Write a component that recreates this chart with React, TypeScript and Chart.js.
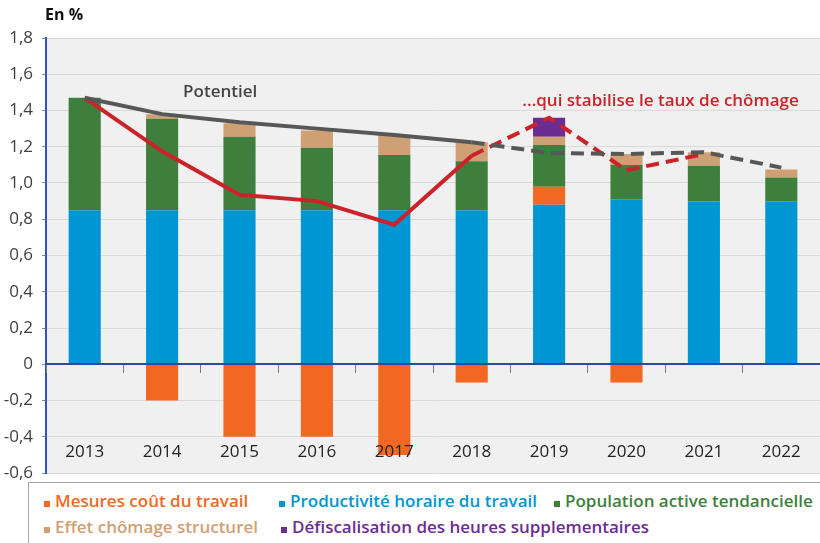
import React, { useEffect, useRef } from 'react';
import { Chart, registerables } from 'chart.js';

Chart.register(...registerables);

// ---- Data ----
const years = ['2013', '2014', '2015', '2016', '2017', '2018', '2019', '2020', '2021', '2022'];
const productivite = [0.85, 0.85, 0.85, 0.85, 0.85, 0.85, 0.88, 0.91, 0.9, 0.9];
const mesuresCout = [0, -0.2, -0.4, -0.4, -0.5, -0.1, 0.1, -0.1, 0, 0];
const population = [0.62, 0.505, 0.405, 0.345, 0.305, 0.27, 0.23, 0.19, 0.195, 0.13];
const effetChomage = [0, 0.025, 0.075, 0.095, 0.11, 0.105, 0.045, 0.06, 0.075, 0.045];
const defiscalisation = [0, 0, 0, 0, 0, 0, 0.105, 0, 0, 0];
const potentiel = [1.47, 1.38, 1.335, 1.3, 1.265, 1.225, 1.165, 1.16, 1.17, 1.085];
const croissanceStable = [1.47, 1.175, 0.935, 0.9, 0.77, 1.15, 1.36, 1.07, 1.16, null];
const yTickValues = [-0.6, -0.4, -0.2, 0, 0.2, 0.4, 0.6, 0.8, 1.0, 1.2, 1.4, 1.6, 1.8];

const seriesLabels = [
  'Mesures coût du travail',
  'Productivité horaire du travail',
  'Population active tendancielle',
  'Effet chômage structurel',
  'Défiscalisation des heures supplementaires',
];
const potentielLabel = 'Potentiel';
const chomageLabel = '...qui stabilise le taux de chômage';
const unitLabel = 'En %';

// ---- Styles ----
const FONT = "'Open Sans', 'DejaVu Sans', sans-serif";
const C_ORANGE = '#f26722';
const C_BLUE = '#0096d3';
const C_GREEN = '#3e7f3e';
const C_TAN = '#d0a075';
const C_PURPLE = '#6a2d91';
const C_RED = '#cc2229';
const C_GRAY = '#575757';
const seriesColors = [C_ORANGE, C_BLUE, C_GREEN, C_TAN, C_PURPLE];

const fmt = (v: number) => {
  const r = Math.round(v * 10) / 10;
  if (r === 0) return '0';
  return r.toFixed(1).replace('.', ',');
};

const plotBg = {
  id: 'plotBg',
  beforeDraw(chart: any) {
    const { ctx, chartArea: a } = chart;
    ctx.save();
    ctx.fillStyle = '#f0f0f0';
    ctx.fillRect(a.left, a.top, a.right - a.left, a.bottom - a.top);
    ctx.restore();
  },
};

const notes = {
  id: 'notes',
  afterDraw(chart: any) {
    const { ctx, chartArea: a, scales } = chart;
    const x = scales.x;
    const y = scales.y;
    ctx.save();
    ctx.textBaseline = 'middle';
    ctx.textAlign = 'left';
    ctx.font = `bold 16px ${FONT}`;
    ctx.fillStyle = '#111111';
    ctx.fillText(unitLabel, a.left - 1, a.top - 23);
    ctx.textAlign = 'center';
    ctx.font = `600 17px ${FONT}`;
    ctx.fillStyle = '#454545';
    ctx.fillText(potentielLabel, x.getPixelForValue(1.75), y.getPixelForValue(1.503));
    ctx.fillStyle = C_RED;
    ctx.fillText(chomageLabel, x.getPixelForValue(7.44), y.getPixelForValue(1.453));
    ctx.restore();
  },
};

const dashAfter2018 = (dash: number[]) => (c: any) => (c.p0DataIndex >= 5 ? dash : undefined);

export default function App() {
  const ref = useRef<HTMLCanvasElement | null>(null);

  useEffect(() => {
    if (!ref.current) return;
    const bar = (label: string, data: number[], color: string) => ({
      type: 'bar' as const,
      label,
      data,
      backgroundColor: color,
      borderWidth: 0,
      stack: 'bars',
      barPercentage: 0.415,
      categoryPercentage: 1,
    });
    const chart = new Chart(ref.current, {
      type: 'bar',
      data: {
        labels: years,
        datasets: [
          {
            type: 'line',
            label: potentielLabel,
            data: potentiel,
            stack: 'potentiel',
            borderColor: C_GRAY,
            borderWidth: 4,
            pointRadius: 0,
            tension: 0,
            segment: { borderDash: dashAfter2018([13, 7]) },
          } as any,
          {
            type: 'line',
            label: chomageLabel,
            data: croissanceStable,
            stack: 'chomage',
            borderColor: C_RED,
            borderWidth: 4,
            pointRadius: 0,
            tension: 0,
            spanGaps: false,
            segment: { borderDash: dashAfter2018([13, 7]) },
          } as any,
          bar(seriesLabels[1], productivite, C_BLUE),
          bar(seriesLabels[0], mesuresCout, C_ORANGE),
          bar(seriesLabels[2], population, C_GREEN),
          bar(seriesLabels[3], effetChomage, C_TAN),
          bar(seriesLabels[4], defiscalisation, C_PURPLE),
        ],
      },
      options: {
        responsive: false,
        animation: false,
        layout: { padding: { top: 38, bottom: 70, left: 0, right: 0 } },
        plugins: {
          legend: { display: false },
          tooltip: { enabled: false },
          title: { display: false },
        },
        scales: {
          x: {
            stacked: true,
            position: { y: 0 } as any,
            offset: true,
            afterFit: (s: any) => {
              s.paddingLeft = 0;
              s.paddingRight = 0;
            },
            grid: {
              display: true,
              offset: true,
              drawOnChartArea: false,
              drawTicks: true,
              tickLength: 8,
              tickColor: '#7a7a7a',
              tickWidth: 1,
              z: 1,
            },
            border: { display: true, color: '#2b4c9c', width: 2, z: 1 },
            ticks: {
              padding: 70,
              color: '#222222',
              font: { family: FONT, size: 17 },
              maxRotation: 0,
              autoSkip: false,
              z: 2,
            },
          } as any,
          y: {
            stacked: true,
            min: yTickValues[0],
            max: yTickValues[yTickValues.length - 1],
            afterFit: (s: any) => {
              s.width = 46;
            },
            afterBuildTicks: (s: any) => {
              s.ticks = yTickValues.map((v) => ({ value: v }));
            },
            grid: { color: '#d9d9d9', tickLength: 4, tickColor: '#8a8a8a', drawTicks: true },
            border: { display: true, color: '#2d55b4', width: 2 },
            ticks: {
              padding: 9,
              color: '#404040',
              font: { family: FONT, size: 17 },
              callback: (v: any) => fmt(Number(v)),
            },
          },
        },
      },
      plugins: [plotBg, notes],
    });
    return () => chart.destroy();
  }, []);

  const legendRows = [
    [0, 1, 2],
    [3, 4],
  ];
  const rowTops = [8, 34];
  const itemLefts = [
    [15, 250, 525],
    [15, 252],
  ];

  return (
    <div
      style={{
        position: 'absolute',
        left: 0,
        top: 0,
        width: 820,
        height: 543,
        overflow: 'hidden',
        background: '#ffffff',
      }}
    >
      <canvas ref={ref} width={820} height={543} style={{ display: 'block', width: 820, height: 543 }} />
      <div
        style={{
          position: 'absolute',
          left: 28,
          top: 482,
          width: 800,
          height: 70,
          border: '1px solid #a6a6a6',
          background: '#ffffff',
          boxSizing: 'border-box',
          fontFamily: FONT,
          fontWeight: 600,
          fontSize: 17,
        }}
      >
        {legendRows.map((row, r) =>
          row.map((idx, k) => (
            <div
              key={idx}
              style={{
                position: 'absolute',
                left: itemLefts[r][k],
                top: rowTops[r],
                lineHeight: '20px',
                whiteSpace: 'nowrap',
                color: seriesColors[idx],
              }}
            >
              <span
                style={{
                  display: 'inline-block',
                  width: 6,
                  height: 6,
                  background: seriesColors[idx],
                  marginRight: 5,
                  verticalAlign: 'baseline',
                }}
              />
              {seriesLabels[idx]}
            </div>
          ))
        )}
      </div>
    </div>
  );
}
